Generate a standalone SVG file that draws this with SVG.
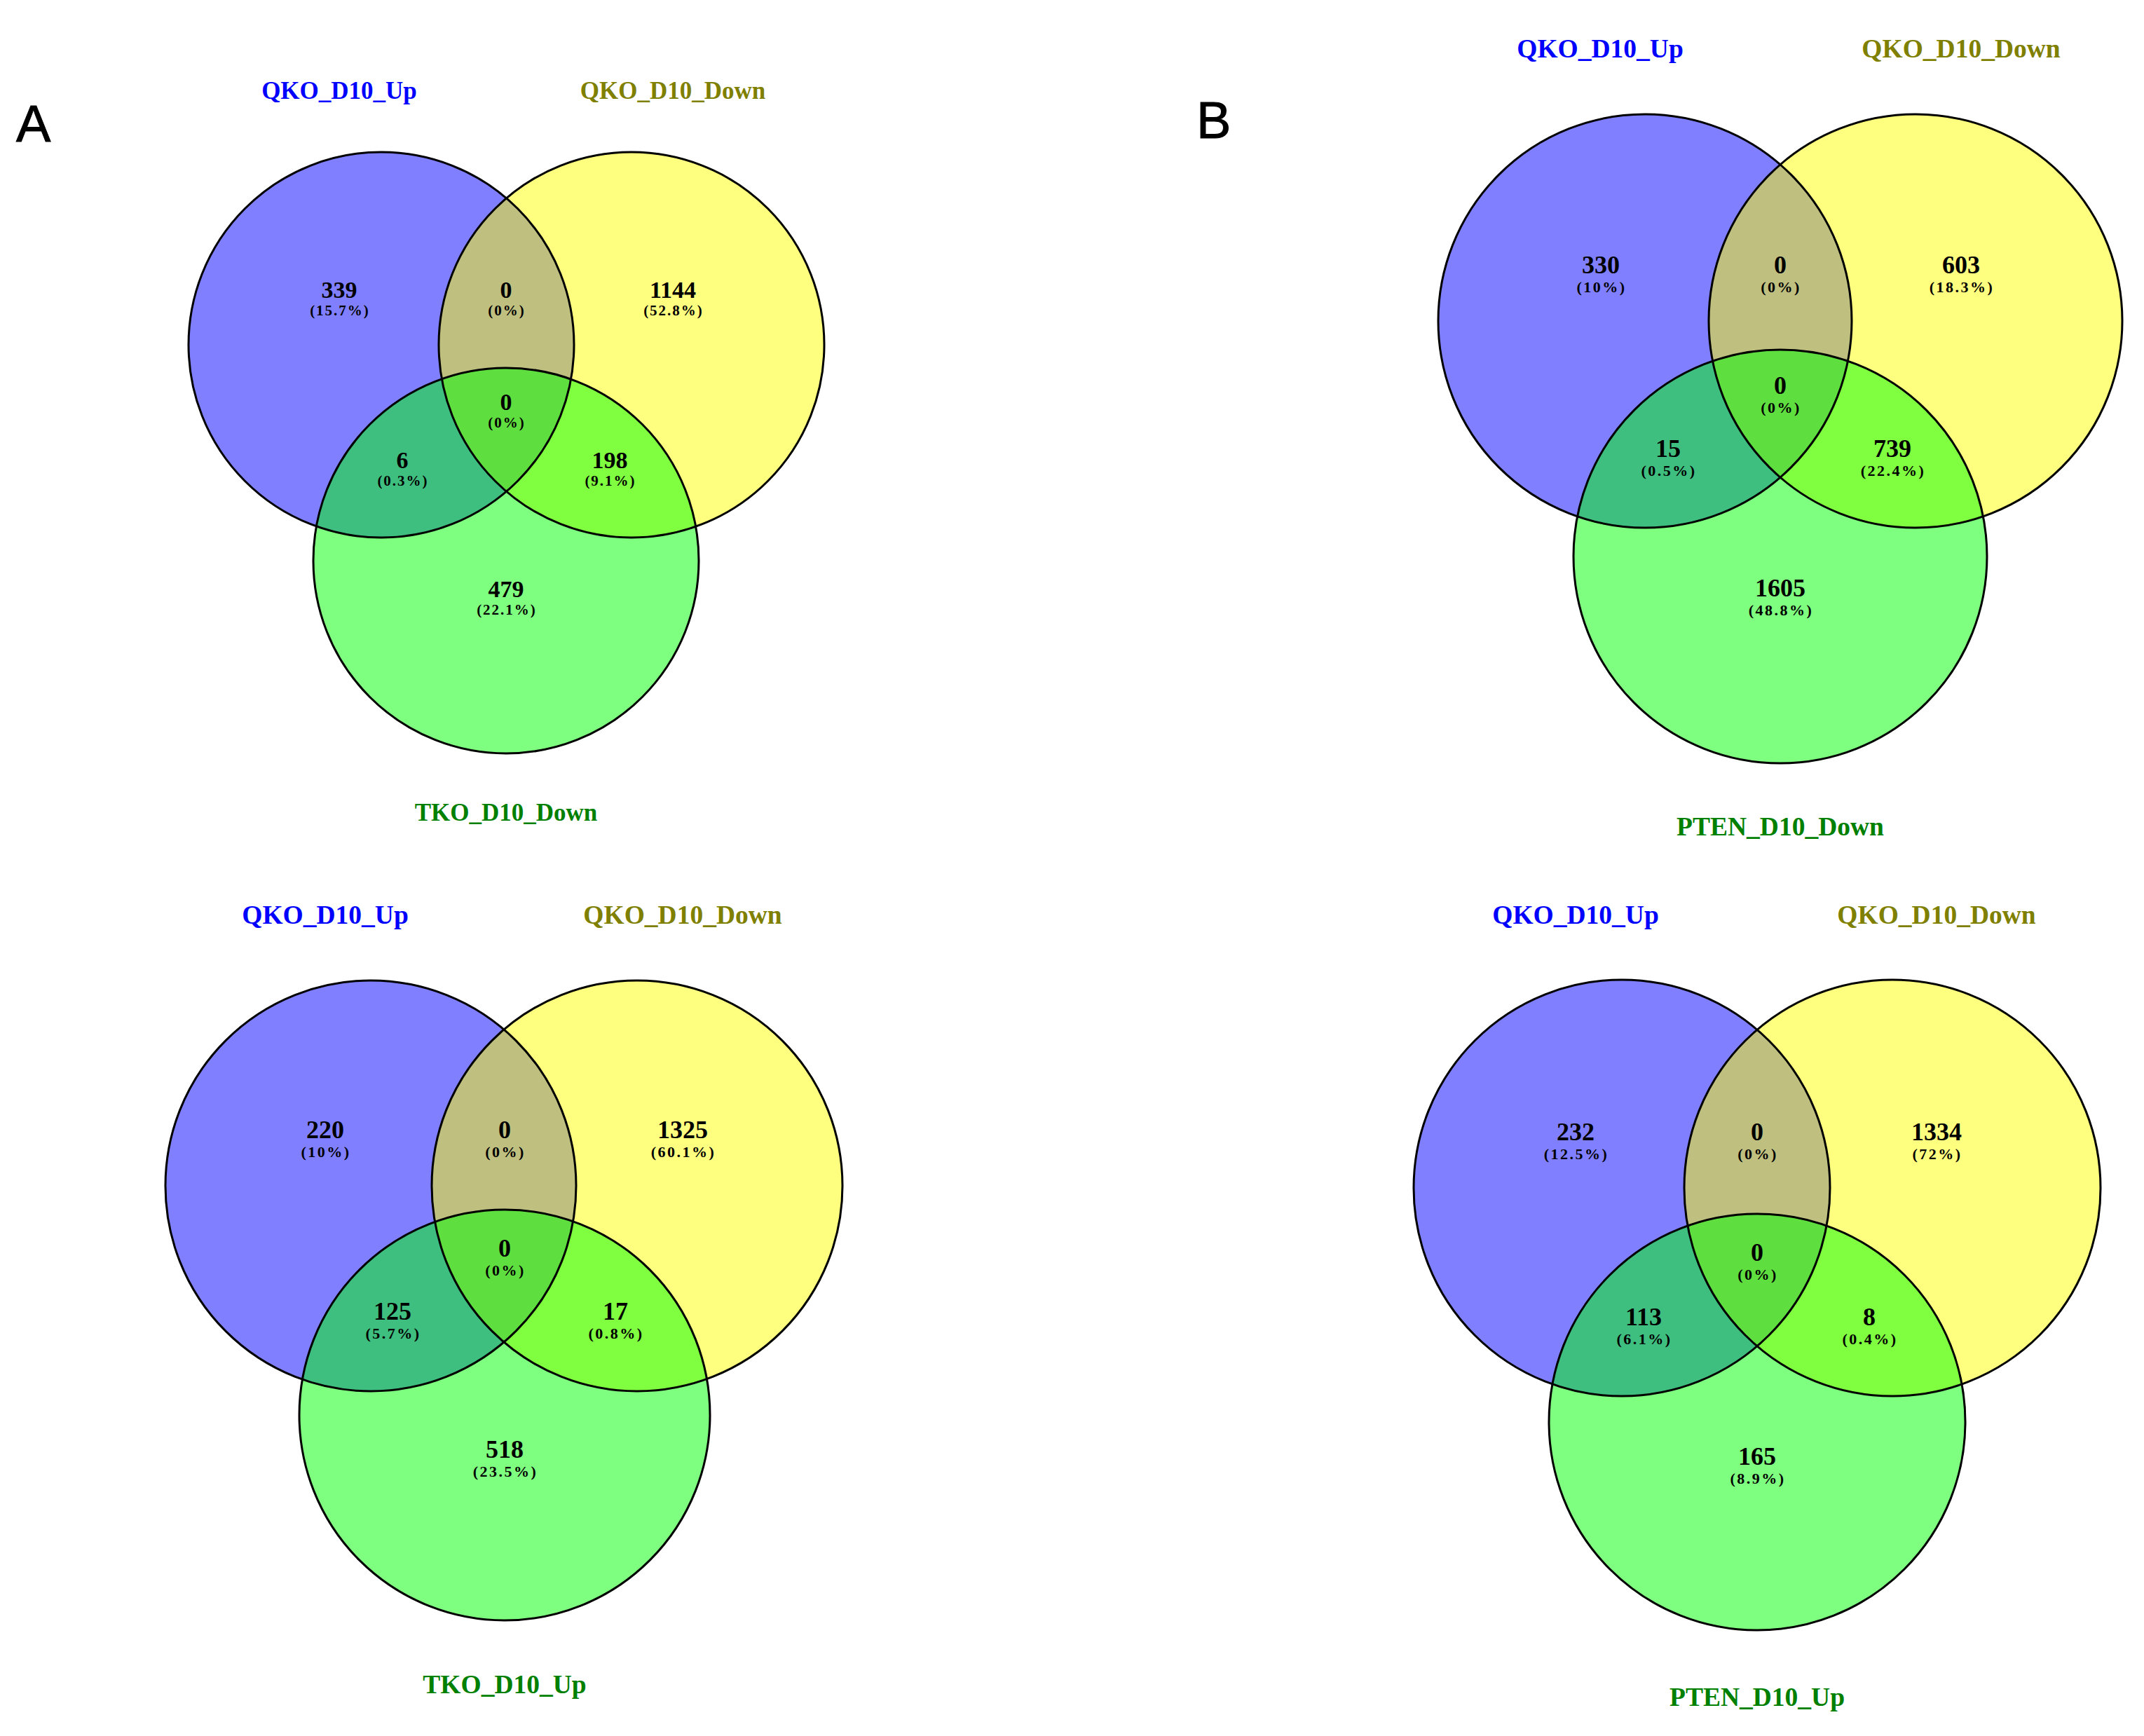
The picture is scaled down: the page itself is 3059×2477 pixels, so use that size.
<svg xmlns="http://www.w3.org/2000/svg" width="3059" height="2477" viewBox="0 0 3059 2477">
<style>
.b{fill:#0000FF;fill-opacity:0.5}
.y{fill:#FFFF00;fill-opacity:0.5}
.g{fill:#00FF00;fill-opacity:0.5}
.o{fill:none;stroke:#000;stroke-width:3}
.lab{font-family:"Liberation Serif","Times New Roman",serif;font-weight:bold;font-size:35px;text-anchor:middle}
.big .lab{font-size:37.5px}
.lb{fill:#0000FF}.ly{fill:#808000}.lg{fill:#008000}
.n{font-family:"Liberation Serif","Times New Roman",serif;font-weight:bold;font-size:34px;text-anchor:middle;fill:#000}
.big .n{font-size:36px}
.p{font-family:"Liberation Serif","Times New Roman",serif;font-weight:bold;font-size:21px;letter-spacing:2px;text-anchor:middle;fill:#000}
.big .p{font-size:22px;letter-spacing:2.5px}
.panel{font-family:"Liberation Sans",Arial,sans-serif;font-size:74px;fill:#000;stroke:#000;stroke-width:1}
</style>
<rect width="3059" height="2477" fill="#fff"/>
<text class="panel" x="23" y="202">A</text>
<text class="panel" x="1707" y="197">B</text>

<g id="venn-A-top">
<circle class="b" cx="544" cy="492" r="275"/>
<circle class="y" cx="901" cy="492" r="275"/>
<circle class="g" cx="722" cy="800" r="275"/>
<circle class="o" cx="544" cy="492" r="275"/>
<circle class="o" cx="901" cy="492" r="275"/>
<circle class="o" cx="722" cy="800" r="275"/>
<text class="lab lb" x="484" y="141">QKO_D10_Up</text>
<text class="lab ly" x="960" y="141">QKO_D10_Down</text>
<text class="lab lg" x="722" y="1171">TKO_D10_Down</text>
<text class="n" x="484" y="425">339</text><text class="p" x="485" y="450">(15.7%)</text>
<text class="n" x="722" y="425">0</text><text class="p" x="723" y="450">(0%)</text>
<text class="n" x="960" y="425">1144</text><text class="p" x="961" y="450">(52.8%)</text>
<text class="n" x="722" y="585">0</text><text class="p" x="723" y="610">(0%)</text>
<text class="n" x="574" y="668">6</text><text class="p" x="575" y="693">(0.3%)</text>
<text class="n" x="870" y="668">198</text><text class="p" x="871" y="693">(9.1%)</text>
<text class="n" x="722" y="852">479</text><text class="p" x="723" y="877">(22.1%)</text>
</g>

<g id="venn-B-top" class="big">
<circle class="b" cx="2347" cy="458" r="295"/>
<circle class="y" cx="2733" cy="458" r="295"/>
<circle class="g" cx="2540" cy="794" r="295"/>
<circle class="o" cx="2347" cy="458" r="295"/>
<circle class="o" cx="2733" cy="458" r="295"/>
<circle class="o" cx="2540" cy="794" r="295"/>
<text class="lab lb" x="2283" y="82">QKO_D10_Up</text>
<text class="lab ly" x="2798" y="82">QKO_D10_Down</text>
<text class="lab lg" x="2540" y="1192">PTEN_D10_Down</text>
<text class="n" x="2284" y="390">330</text><text class="p" x="2285" y="417">(10%)</text>
<text class="n" x="2540" y="390">0</text><text class="p" x="2541" y="417">(0%)</text>
<text class="n" x="2798" y="390">603</text><text class="p" x="2799" y="417">(18.3%)</text>
<text class="n" x="2540" y="562">0</text><text class="p" x="2541" y="589">(0%)</text>
<text class="n" x="2380" y="652">15</text><text class="p" x="2381" y="679">(0.5%)</text>
<text class="n" x="2700" y="652">739</text><text class="p" x="2701" y="679">(22.4%)</text>
<text class="n" x="2540" y="851">1605</text><text class="p" x="2541" y="878">(48.8%)</text>
</g>

<g id="venn-A-bottom" class="big">
<circle class="b" cx="529" cy="1692" r="293"/>
<circle class="y" cx="909" cy="1692" r="293"/>
<circle class="g" cx="720" cy="2019" r="293"/>
<circle class="o" cx="529" cy="1692" r="293"/>
<circle class="o" cx="909" cy="1692" r="293"/>
<circle class="o" cx="720" cy="2019" r="293"/>
<text class="lab lb" x="464" y="1318">QKO_D10_Up</text>
<text class="lab ly" x="974" y="1318">QKO_D10_Down</text>
<text class="lab lg" x="720" y="2416">TKO_D10_Up</text>
<text class="n" x="464" y="1624">220</text><text class="p" x="465" y="1651">(10%)</text>
<text class="n" x="720" y="1624">0</text><text class="p" x="721" y="1651">(0%)</text>
<text class="n" x="974" y="1624">1325</text><text class="p" x="975" y="1651">(60.1%)</text>
<text class="n" x="720" y="1793">0</text><text class="p" x="721" y="1820">(0%)</text>
<text class="n" x="560" y="1883">125</text><text class="p" x="561" y="1910">(5.7%)</text>
<text class="n" x="878" y="1883">17</text><text class="p" x="879" y="1910">(0.8%)</text>
<text class="n" x="720" y="2080">518</text><text class="p" x="721" y="2107">(23.5%)</text>
</g>

<g id="venn-B-bottom" class="big">
<circle class="b" cx="2314" cy="1695" r="297"/>
<circle class="y" cx="2700" cy="1695" r="297"/>
<circle class="g" cx="2507" cy="2029" r="297"/>
<circle class="o" cx="2314" cy="1695" r="297"/>
<circle class="o" cx="2700" cy="1695" r="297"/>
<circle class="o" cx="2507" cy="2029" r="297"/>
<text class="lab lb" x="2248" y="1318">QKO_D10_Up</text>
<text class="lab ly" x="2763" y="1318">QKO_D10_Down</text>
<text class="lab lg" x="2507" y="2434">PTEN_D10_Up</text>
<text class="n" x="2248" y="1627">232</text><text class="p" x="2249" y="1654">(12.5%)</text>
<text class="n" x="2507" y="1627">0</text><text class="p" x="2508" y="1654">(0%)</text>
<text class="n" x="2763" y="1627">1334</text><text class="p" x="2764" y="1654">(72%)</text>
<text class="n" x="2507" y="1799">0</text><text class="p" x="2508" y="1826">(0%)</text>
<text class="n" x="2345" y="1891">113</text><text class="p" x="2346" y="1918">(6.1%)</text>
<text class="n" x="2667" y="1891">8</text><text class="p" x="2668" y="1918">(0.4%)</text>
<text class="n" x="2507" y="2090">165</text><text class="p" x="2508" y="2117">(8.9%)</text>
</g>
<g id="connectors"></g>
</svg>
